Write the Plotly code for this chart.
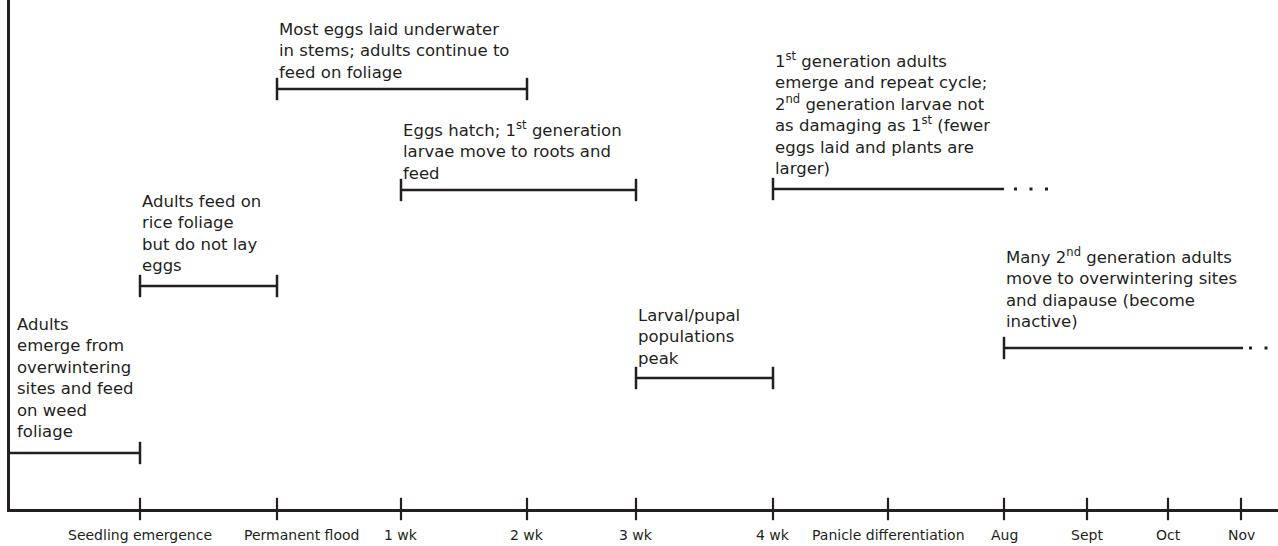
import plotly.graph_objects as go

# ---- data ----
tick_labels = ["Seedling emergence", "Permanent flood", "1 wk", "2 wk", "3 wk", "4 wk",
               "Panicle differentiation", "Aug", "Sept", "Oct", "Nov"]
tick_positions = [130, 267, 391, 517, 626, 763, 878, 994, 1077, 1158, 1231]

stage_texts = [
    "Adults<br>emerge from<br>overwintering<br>sites and feed<br>on weed<br>foliage",
    "Adults feed on<br>rice foliage<br>but do not lay<br>eggs",
    "Most eggs laid underwater<br>in stems; adults continue to<br>feed on foliage",
    "Eggs hatch; 1<sup>st</sup> generation<br>larvae move to roots and<br>feed",
    "Larval/pupal<br>populations<br>peak",
    "1<sup>st</sup> generation adults<br>emerge and repeat cycle;<br>2<sup>nd</sup> generation larvae not<br>as damaging as 1<sup>st</sup> (fewer<br>eggs laid and plants are<br>larger)",
    "Many 2<sup>nd</sup> generation adults<br>move to overwintering sites<br>and diapause (become<br>inactive)",
]
stage_start = ["origin", "Seedling emergence", "Permanent flood", "1 wk", "3 wk", "4 wk", "Aug"]
stage_end = ["Seedling emergence", "Permanent flood", "2 wk", "3 wk", "4 wk", "Aug", "Nov"]
stage_level = [56, 223, 420, 319, 131, 320, 161]
stage_continues = [False, False, False, False, False, True, True]

# ---- styling ----
INK = "#231f20"
FONT = "DejaVu Sans"
text_yshift = [10, 9, 5, 5, 8, 9, 15]
label_xshift = {"Permanent flood": 24}
origin = 0
pos = dict(zip(tick_labels, tick_positions))
pos["origin"] = origin

fig = go.Figure()

# x-axis ticks crossing the axis line
fig.add_trace(go.Scatter(
    x=tick_positions, y=[0] * len(tick_positions), mode="markers",
    marker=dict(symbol="line-ns", size=16, line=dict(width=2.2, color=INK)),
    cliponaxis=False, hoverinfo="skip", showlegend=False))

annotations = []
for lab, xp in zip(tick_labels, tick_positions):
    annotations.append(dict(
        x=xp, y=0, xref="x", yref="y", text=lab, showarrow=False,
        xanchor="center", yanchor="top", yshift=-16,
        xshift=label_xshift.get(lab, 0),
        font=dict(family=FONT, size=14, color=INK)))

for i, txt in enumerate(stage_texts):
    x0 = pos[stage_start[i]]
    x1 = pos[stage_end[i]]
    if stage_end[i] == "Nov":
        x1 += 2
    lvl = stage_level[i]
    fig.add_trace(go.Scatter(
        x=[x0, x1], y=[lvl, lvl], mode="lines",
        line=dict(color=INK, width=2.5), hoverinfo="skip", showlegend=False))
    caps = []
    if stage_start[i] != "origin":
        caps.append(x0)
    if not stage_continues[i]:
        caps.append(x1)
    fig.add_trace(go.Scatter(
        x=caps, y=[lvl] * len(caps), mode="markers",
        marker=dict(symbol="line-ns", size=16, line=dict(width=2.5, color=INK)),
        hoverinfo="skip", showlegend=False, cliponaxis=False))
    if stage_continues[i]:
        gap = 10 if stage_end[i] == "Aug" else 6
        fig.add_trace(go.Scatter(
            x=[x1 + gap, x1 + gap + 40], y=[lvl, lvl], mode="lines",
            line=dict(color=INK, width=3, dash="3px,12.5px"),
            hoverinfo="skip", showlegend=False))
    annotations.append(dict(
        x=x0, y=lvl, xref="x", yref="y", text=txt, showarrow=False,
        xanchor="left", yanchor="bottom", align="left",
        xshift=5 if stage_start[i] == "origin" else 0, yshift=text_yshift[i],
        font=dict(family=FONT, size=16.5, color=INK)))

fig.update_layout(
    width=1278, height=546,
    margin=dict(l=10, r=0, t=0, b=37),
    paper_bgcolor="white", plot_bgcolor="white",
    annotations=annotations,
    xaxis=dict(range=[0, 1268], showgrid=False, zeroline=False,
               showline=True, linecolor=INK, linewidth=2.5,
               tickmode="array", tickvals=tick_positions,
               showticklabels=False, ticks=""),
    yaxis=dict(range=[0, 509], showgrid=False, zeroline=False,
               showline=True, linecolor=INK, linewidth=2.5,
               showticklabels=False, ticks=""),
)

fig.write_html("out.html", config={"displayModeBar": False},
               post_script="document.body.style.margin='0';document.body.style.overflow='hidden';")
